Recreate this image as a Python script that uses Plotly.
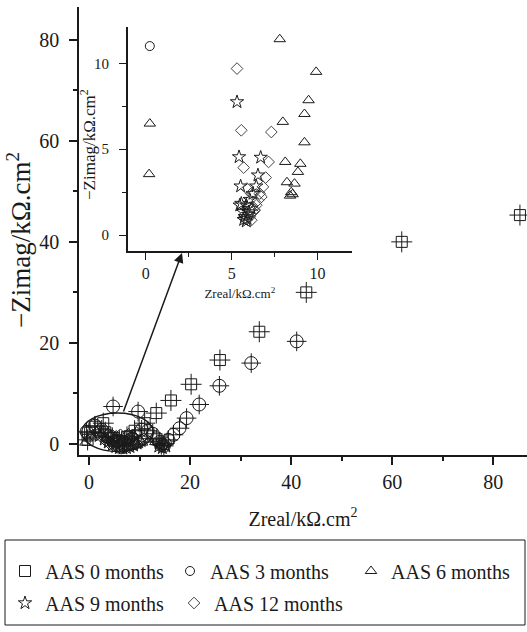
import plotly.graph_objects as go

# ---------------- data (main plot) ----------------
m0_x = [85.3, 61.9, 43.0, 33.7, 25.9, 20.2, 16.2, 13.3, 11.0, 9.0, 7.5, 6.0, 4.6, 3.2, 2.8, 1.1, 0.2, -0.3]
m0_y = [45.3, 40.0, 30.0, 22.2, 16.6, 11.8, 8.6, 6.1, 4.1, 2.6, 1.4, 0.6, 1.2, 2.3, 4.1, 3.4, 2.2, 0.8]

m3_x = [41.1, 32.1, 25.8, 21.8, 19.3, 17.9, 16.7, 15.7, 15.0, 14.3, 13.4, 12.6, 11.6, 10.4, 9.7, 8.5, 7.0, 5.5, 4.75, 3.8, 2.5, 1.2, -0.5, 14.0, 14.8]
m3_y = [20.3, 16.0, 11.5, 7.8, 5.1, 3.1, 1.8, 0.8, 0.1, -0.2, 1.1, 2.0, 2.6, 2.8, 6.4, 1.0, 0.2, 0.5, 7.4, 1.5, 2.8, 3.6, 2.4, 0.4, -0.4]

m6_x = [-0.85, -0.3, 0.4, 1.5, 2.6, 3.6, 4.6, 5.6, 6.6, 7.6, 8.6, 9.6, 10.6, 11.8, 13.0, 14.0, 14.8]
m6_y = [0.2, 1.0, 1.8, 2.6, 2.0, 1.2, 0.4, -0.2, -0.6, -0.8, -0.6, -0.3, 0.2, 0.8, 0.3, -0.4, -0.7]

m9_x = [2.0, 3.0, 3.8, 4.6, 5.3, 6.0, 6.7, 7.4, 8.1, 8.8, 9.5, 10.3, 4.2, 5.0, 5.8, 6.6, 7.4, 8.2, 9.0, 13.8, 14.5, 15.2]
m9_y = [1.6, 0.9, 0.3, -0.2, -0.6, -0.8, -0.9, -0.8, -0.6, -0.3, 0.1, 0.6, 1.4, 1.0, 0.6, 0.4, 0.5, 0.8, 1.3, -0.5, -0.8, -0.5]

m12_x = [1.5, 2.4, 3.3, 4.1, 4.9, 5.6, 6.3, 7.0, 7.8, 8.5, 9.2, 10.0, 10.8, 3.8, 4.6, 5.4, 6.2, 7.0, 7.8, 8.6, 9.4, 14.0, 14.8]
m12_y = [2.2, 1.4, 0.6, 0.0, -0.4, -0.7, -0.9, -0.8, -0.6, -0.4, -0.1, 0.4, 1.0, 2.0, 1.7, 1.5, 1.8, 1.4, 1.9, 1.6, 2.2, 0.3, -0.2]

# ---------------- data (inset) ----------------
i3_x = [0.23]
i3_y = [11.0]

i6_x = [7.8, 9.92, 9.48, 9.24, 7.98, 0.23, 9.24, 8.12, 9.0, 8.86, 0.19, 8.22, 8.66, 8.47, 8.55, 8.40]
i6_y = [11.4, 9.5, 7.85, 7.05, 6.59, 6.49, 5.4, 4.26, 4.15, 3.68, 3.55, 3.08, 3.0, 2.5, 2.38, 2.3]

i9_x = [5.31, 5.43, 6.69, 6.53, 5.52, 6.43, 6.24, 6.05, 5.47, 5.85, 5.56, 5.66, 5.76, 5.85, 5.70, 5.95, 6.14, 5.90, 6.00]
i9_y = [7.75, 4.55, 4.52, 3.49, 2.85, 2.85, 2.42, 2.07, 1.74, 1.74, 1.84, 1.36, 1.07, 0.81, 0.90, 1.20, 1.55, 0.95, 1.35]

i12_x = [5.31, 5.56, 7.31, 7.15, 5.70, 6.98, 6.82, 6.63, 6.53, 6.43, 6.30, 6.24, 6.14, 6.05, 5.89, 6.14, 6.34, 6.73]
i12_y = [9.69, 6.10, 6.00, 4.26, 3.93, 3.35, 2.81, 2.42, 2.03, 1.74, 1.45, 1.36, 0.87, 1.07, 2.71, 2.42, 1.45, 2.23]

names = ["AAS 0 months", "AAS 3 months", "AAS 6 months", "AAS 9 months", "AAS 12 months"]

main_xticks = [0, 20, 40, 60, 80]
main_yticks = [0, 20, 40, 60, 80]
inset_xticks = [0, 5, 10]
inset_yticks = [0, 5, 10]

FONT = "Liberation Serif"
INK = "#1a1a1a"

# plot-area geometry in pixels (used to place decorations in paper units)
PL, PB, PW, PH = 79, 455, 448, 448


def px(xp):
    return (xp - PL) / PW


def py(yp):
    return (PB - yp) / PH


fig = go.Figure()


def mk(symbol, size, color=INK, width=1):
    return dict(symbol=symbol, size=size, color=color,
                line=dict(color=color, width=width))


# main traces
fig.add_trace(go.Scatter(x=m0_x, y=m0_y, mode="markers", name=names[0],
                         marker=mk("square-open", 11), legend="legend"))
fig.add_trace(go.Scatter(x=m0_x, y=m0_y, mode="markers", showlegend=False,
                         marker=dict(symbol="cross-thin", size=15, color=INK,
                                     line=dict(color=INK, width=1))))
fig.add_trace(go.Scatter(x=m3_x, y=m3_y, mode="markers", showlegend=False,
                         marker=mk("circle-open", 13)))
fig.add_trace(go.Scatter(x=m3_x, y=m3_y, mode="markers", showlegend=False,
                         marker=dict(symbol="cross-thin", size=14, color=INK,
                                     line=dict(color=INK, width=1))))
fig.add_trace(go.Scatter(x=m6_x, y=m6_y, mode="markers", showlegend=False,
                         marker=mk("triangle-up-open", 9)))
fig.add_trace(go.Scatter(x=m9_x, y=m9_y, mode="markers", showlegend=False,
                         marker=mk("star-open", 10)))
fig.add_trace(go.Scatter(x=m12_x, y=m12_y, mode="markers", showlegend=False,
                         marker=mk("diamond-open", 9)))

# inset traces (also used for legend)
fig.add_trace(go.Scatter(x=i3_x, y=i3_y, mode="markers", name=names[1],
                         xaxis="x2", yaxis="y2", legend="legend2",
                         marker=mk("circle-open", 9)))
fig.add_trace(go.Scatter(x=i6_x, y=i6_y, mode="markers", name=names[2],
                         xaxis="x2", yaxis="y2", legend="legend3",
                         marker=mk("triangle-up-open", 10)))
fig.add_trace(go.Scatter(x=i9_x, y=i9_y, mode="markers", name=names[3],
                         xaxis="x2", yaxis="y2", legend="legend4",
                         marker=mk("star-open", 10)))
fig.add_trace(go.Scatter(x=i12_x, y=i12_y, mode="markers", name=names[4],
                         xaxis="x2", yaxis="y2", legend="legend5",
                         marker=mk("diamond-open", 9, color="#444")))

axis_common = dict(showline=True, linecolor=INK, linewidth=1.5, ticks="outside",
                   tickwidth=1.5, tickcolor=INK, showgrid=False, zeroline=False,
                   mirror=False, tickfont=dict(family=FONT, size=20, color=INK))

legend_common = dict(orientation="h", xanchor="left", yanchor="middle",
                     bgcolor="rgba(0,0,0,0)", borderwidth=0,
                     font=dict(family=FONT, size=20, color=INK))

fig.update_layout(
    width=527, height=632,
    margin=dict(l=79, r=0, t=7, b=177),
    paper_bgcolor="white", plot_bgcolor="white",
    font=dict(family=FONT, color=INK),
    xaxis=dict(**axis_common, range=[-2, 86.7], tickvals=main_xticks,
               ticklen=8,
               minor=dict(dtick=10, tick0=0, ticks="outside", ticklen=4,
                          tickwidth=1.5, tickcolor=INK, showgrid=False),
               title=dict(text="Zreal/kΩ.cm<sup>2</sup>", standoff=20,
                          font=dict(family=FONT, size=20, color=INK)),
               automargin=False),
    yaxis=dict(**axis_common, range=[-2.2, 86.5], tickvals=main_yticks,
               ticklen=8, ticklabelstandoff=6,
               minor=dict(dtick=10, tick0=0, ticks="outside", ticklen=4,
                          tickwidth=1.5, tickcolor=INK, showgrid=False),
               automargin=False),
    xaxis2=dict(showline=True, linecolor=INK, linewidth=1.5, ticks="outside",
                tickwidth=1.2, tickcolor=INK, showgrid=False, zeroline=False,
                domain=[0.109, 0.609], anchor="y2", range=[-1.05, 12],
                tickvals=inset_xticks, ticklen=7,
                tickfont=dict(family=FONT, size=16, color=INK),
                minor=dict(dtick=2.5, tick0=0, ticks="outside", ticklen=4,
                           tickwidth=1.2, tickcolor=INK, showgrid=False),
                title=dict(text="Zreal/kΩ.cm<sup>2</sup>", standoff=8,
                           font=dict(family=FONT, size=13, color=INK)),
                automargin=False),
    yaxis2=dict(showline=True, linecolor=INK, linewidth=1.5, ticks="outside",
                tickwidth=1.2, tickcolor=INK, showgrid=False, zeroline=False,
                domain=[0.455, 0.955], anchor="x2", range=[-0.93, 12.1],
                tickvals=inset_yticks, ticklen=7, ticklabelstandoff=7,
                tickfont=dict(family=FONT, size=15, color=INK),
                minor=dict(dtick=2.5, tick0=0, ticks="outside", ticklen=4,
                           tickwidth=1.2, tickcolor=INK, showgrid=False),
                automargin=False),
    legend=dict(**legend_common, x=px(5), y=py(571)),
    legend2=dict(**legend_common, x=px(170), y=py(571)),
    legend3=dict(**legend_common, x=px(351), y=py(571)),
    legend4=dict(**legend_common, x=px(5), y=py(603)),
    legend5=dict(**legend_common, x=px(174), y=py(603)),
    showlegend=True,
    shapes=[
        dict(type="circle", xref="x", yref="y", x0=-1.45, x1=12.7, y0=-1.5, y1=6.1,
             line=dict(color=INK, width=1.5)),
        dict(type="rect", xref="paper", yref="paper", x0=px(5), x1=px(525),
             y0=py(625), y1=py(540), line=dict(color=INK, width=1)),
    ],
    annotations=[
        dict(x=18.4, y=37.8, xref="x", yref="y", ax=6.7, ay=6.1, axref="x",
             ayref="y", showarrow=True, arrowhead=2, arrowsize=1.3,
             arrowwidth=1.5, arrowcolor=INK, text=""),
        dict(text="−Zimag/kΩ.cm<sup>2</sup>", textangle=-90, showarrow=False,
             xref="paper", yref="paper", x=px(19), y=py(240),
             xanchor="center", yanchor="middle",
             font=dict(family=FONT, size=27, color=INK)),
        dict(text="−Zimag/kΩ.cm<sup>2</sup>", textangle=-90, showarrow=False,
             xref="paper", yref="paper", x=px(88), y=py(145),
             xanchor="center", yanchor="middle",
             font=dict(family=FONT, size=17, color=INK)),
    ],
)

fig.write_html("out.html", config={"displayModeBar": False},
               post_script="document.body.style.margin='0';")
